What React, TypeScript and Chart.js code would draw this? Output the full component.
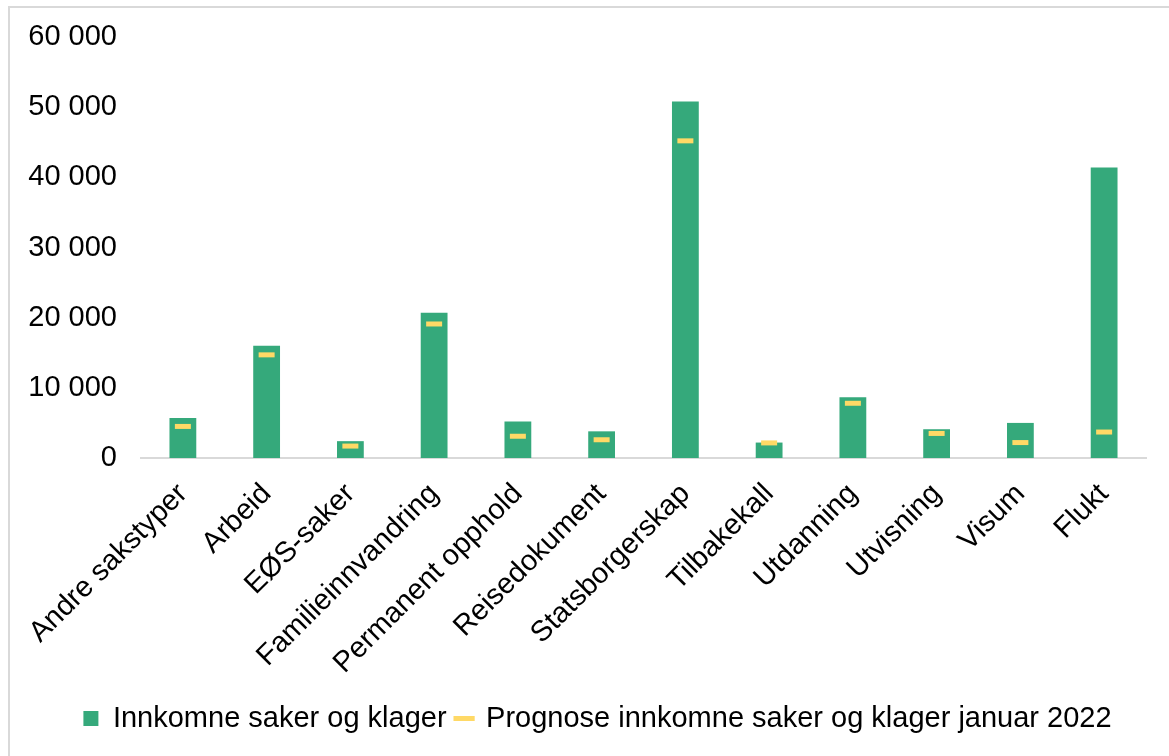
import React, { useEffect, useRef } from "react";
import { Chart, registerables } from "chart.js";

Chart.register(...registerables);

const categories = [
  "Andre sakstyper",
  "Arbeid",
  "EØS-saker",
  "Familieinnvandring",
  "Permanent opphold",
  "Reisedokument",
  "Statsborgerskap",
  "Tilbakekall",
  "Utdanning",
  "Utvisning",
  "Visum",
  "Flukt",
];

const innkomne = [5700, 16000, 2400, 20700, 5200, 3800, 50800, 2200, 8650, 4100, 5000, 41400];
const prognose = [4500, 14700, 1700, 19100, 3100, 2600, 45200, 2150, 7800, 3500, 2200, 3700];

const yTicks = [0, 10000, 20000, 30000, 40000, 50000, 60000];

const FONT = "'Liberation Sans', Arial, sans-serif";

function fmt(v: number): string {
  return String(v).replace(/\B(?=(\d{3})+(?!\d))/g, " ");
}

export default function App() {
  const ref = useRef<HTMLCanvasElement | null>(null);

  useEffect(() => {
    if (!ref.current) return;
    const chart = new Chart(ref.current, {
      type: "bar",
      data: {
        labels: categories,
        datasets: [
          {
            type: "bar",
            label: "Innkomne saker og klager",
            data: innkomne,
            backgroundColor: "#35A97B",
            borderWidth: 0,
            barPercentage: 0.32,
            categoryPercentage: 1,
            pointStyle: "rect",
            order: 1,
          } as any,
          {
            type: "line",
            label: "Prognose innkomne saker og klager januar 2022",
            data: prognose,
            showLine: false,
            borderColor: "#FFD966",
            backgroundColor: "#FFD966",
            borderWidth: 5,
            pointStyle: "line",
            pointRadius: 8,
            pointBorderWidth: 5,
            pointBorderColor: "#FFD966",
            pointHoverRadius: 8,
            order: 0,
          } as any,
        ],
      },
      options: {
        responsive: false,
        animation: false,
        layout: { padding: { left: 16, right: 0, top: 29, bottom: 13 } },
        plugins: {
          tooltip: { enabled: false },
          legend: {
            position: "bottom",
            labels: {
              usePointStyle: true,
              boxWidth: 15,
              boxHeight: 15,
              padding: 10,
              color: "#000",
              font: { family: FONT, size: 29 },
              sort: (a: any, b: any) => a.datasetIndex - b.datasetIndex,
            },
          },
        },
        scales: {
          x: {
            grid: { display: false, drawTicks: false },
            border: { display: true, color: "#D9D9D9", width: 2 },
            ticks: {
              autoSkip: false,
              maxRotation: 45,
              minRotation: 45,
              padding: 19,
              color: "#000",
              font: { family: FONT, size: 29 },
            },
            afterFit: (s: any) => {
              s.height = 236;
            },
          },
          y: {
            min: 0,
            max: 60000,
            afterBuildTicks: (s: any) => {
              s.ticks = yTicks.map((v) => ({ value: v }));
            },
            grid: { display: false, drawTicks: false },
            border: { display: false },
            ticks: {
              padding: 24,
              color: "#000",
              font: { family: FONT, size: 29 },
              callback: (v: any) => fmt(Number(v)),
            },
            afterFit: (s: any) => {
              s.width = 115;
              s.paddingTop = 0;
              s.paddingBottom = 0;
            },
          },
          y2: {
            position: "right",
            display: true,
            grid: { display: false, drawTicks: false },
            border: { display: false },
            ticks: { display: false },
            afterFit: (s: any) => {
              s.width = 23;
              s.paddingTop = 0;
              s.paddingBottom = 0;
            },
          },
        },
      } as any,
    });
    return () => chart.destroy();
  }, []);

  return (
    <div
      style={{
        position: "absolute",
        left: 8,
        top: 6,
        width: 1159,
        height: 748,
        borderTop: "2px solid #D9D9D9",
        borderLeft: "2px solid #D9D9D9",
        background: "#fff",
      }}
    >
      <canvas ref={ref} width={1159} height={748} style={{ display: "block" }} />
    </div>
  );
}
